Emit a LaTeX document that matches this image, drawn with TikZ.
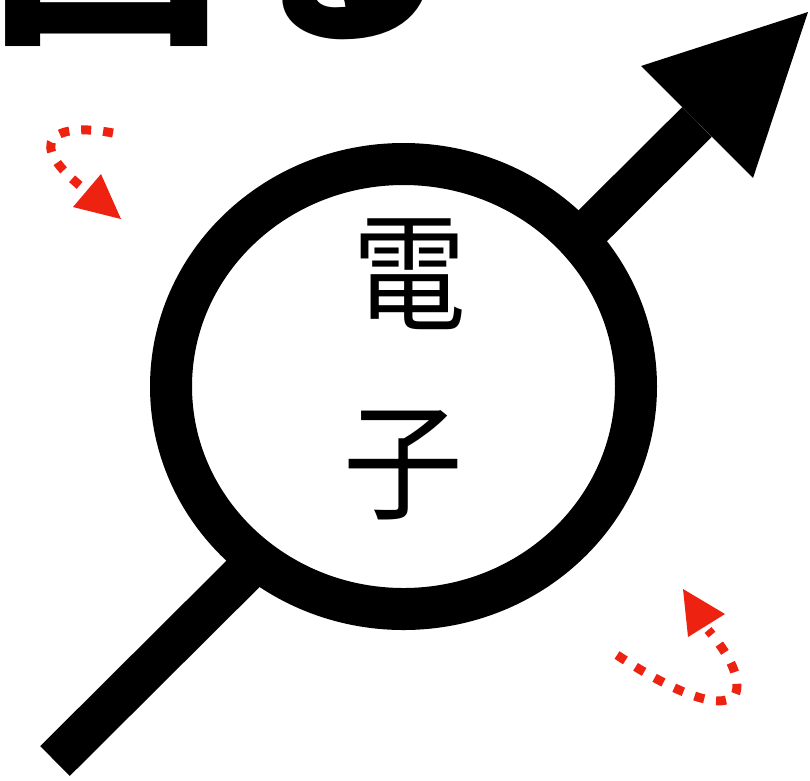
\documentclass[tikz,border=0pt]{standalone}
\usepackage{fontspec}
\newfontfamily\cjk{Noto Sans CJK JP}
\definecolor{spinred}{RGB}{238,34,17}
\begin{document}
\begin{tikzpicture}[x=1pt,y=-1pt,
  ring/.style={draw=black,fill=white,line width=42pt},
  shaft/.style={draw=black,line width=42pt,line cap=butt},
  rot/.style={draw=spinred,line width=9pt,dash pattern=on 10pt off 12pt},
  rothead/.style={fill=spinred,draw=none},
  lbl/.style={inner sep=0pt,yscale=1.12,font=\cjk\fontsize{114}{114}\selectfont}]
\useasboundingbox (0,0) rectangle (810,780);
\node[inner sep=0pt,anchor=base west,font=\cjk\bfseries\fontsize{232}{232}\selectfont] (top) at (-10,24) {回る};
\coordinate (tail) at (55,761);
\coordinate (base) at (697,122);
\draw[shaft] (tail) -- (base);
\fill (641,66) -- (808,12) -- (753,178) -- cycle;
\draw[ring] (403.5,386.5) ellipse [x radius=232.5, y radius=222.5];
\node[lbl] (den) at (409,274) {電};
\node[lbl,xscale=1.05] (shi) at (403.5,465) {子};
\draw[rot] (113,133) .. controls (55,122) and (20,140) .. (88,192);
\fill[rothead] (73,207) -- (101,174) -- (121,219) -- cycle;
\draw[rot] (617,655) .. controls (670,690) and (720,712) .. (735,695) .. controls (742,680) and (730,655) .. (708,630);
\fill[rothead] (683,589) -- (725,614) -- (688,637) -- cycle;
\end{tikzpicture}
\end{document}
